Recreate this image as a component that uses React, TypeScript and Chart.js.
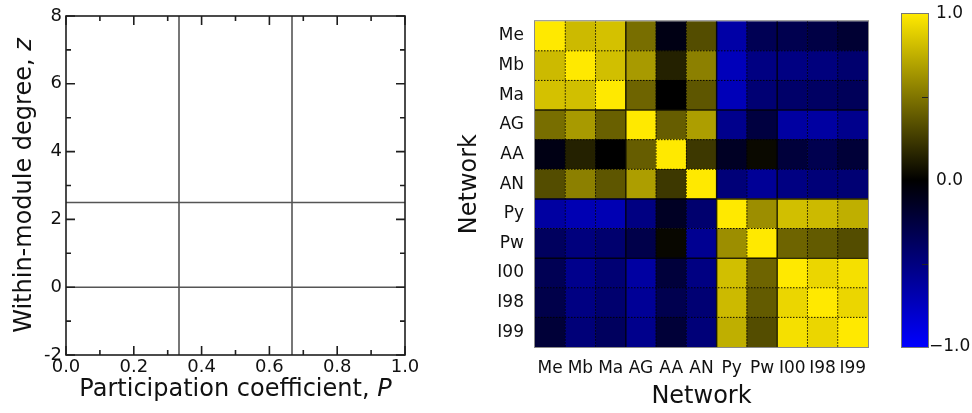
import React, { useEffect, useRef } from 'react';
import { Chart, registerables } from 'chart.js';

Chart.register(...registerables);

const FONT = '"DejaVu Sans", "Liberation Sans", Arial, sans-serif';

// ---------- Left panel: within-module degree vs participation coefficient ----------
const pRange = [0, 1];
const pMajorStep = 0.2;
const pMinorStep = 0.1;
const zRange = [-2, 8];
const zMajorStep = 2;
const zMinorStep = 1;
const roleBoundsP = [1 / 3, 2 / 3];
const roleBoundsZ = [2.5, 0];
const pTitle = 'Participation coefficient, ';
const pSymbol = 'P';
const zTitle = 'Within-module degree, ';
const zSymbol = 'z';

// ---------- Right panel: network correlation matrix ----------
const networks = ['Me', 'Mb', 'Ma', 'AG', 'AA', 'AN', 'Py', 'Pw', 'I00', 'I98', 'I99'];
const rowMe = [1.0, 0.8, 0.83, 0.47, -0.08, 0.33, -0.65, -0.33, -0.31, -0.27, -0.2];
const rowMb = [0.8, 1.0, 0.82, 0.66, 0.14, 0.55, -0.73, -0.51, -0.51, -0.49, -0.43];
const rowMa = [0.83, 0.82, 1.0, 0.43, 0.0, 0.37, -0.72, -0.45, -0.41, -0.39, -0.35];
const rowAG = [0.47, 0.66, 0.41, 1.0, 0.4, 0.68, -0.55, -0.25, -0.63, -0.63, -0.55];
const rowAA = [-0.08, 0.14, 0.0, 0.4, 1.0, 0.24, -0.14, 0.04, -0.23, -0.31, -0.22];
const rowAN = [0.33, 0.55, 0.37, 0.68, 0.24, 1.0, -0.47, -0.59, -0.51, -0.47, -0.45];
const rowPy = [-0.63, -0.7, -0.7, -0.51, -0.14, -0.43, 1.0, 0.61, 0.82, 0.8, 0.75];
const rowPw = [-0.37, -0.49, -0.43, -0.29, 0.03, -0.57, 0.61, 1.0, 0.43, 0.39, 0.33];
const rowI00 = [-0.33, -0.55, -0.45, -0.63, -0.23, -0.51, 0.82, 0.43, 1.0, 0.92, 0.96];
const rowI98 = [-0.29, -0.51, -0.43, -0.59, -0.31, -0.45, 0.8, 0.39, 0.92, 1.0, 0.92];
const rowI99 = [-0.22, -0.47, -0.37, -0.55, -0.22, -0.47, 0.75, 0.33, 0.96, 0.92, 1.0];
const correlationRows = [rowMe, rowMb, rowMa, rowAG, rowAA, rowAN, rowPy, rowPw, rowI00, rowI98, rowI99];
const moduleEdges = [3, 6, 8];
const heatmapTitle = 'Network';

// ---------- Colorbar ----------
const colorbarRange = [-1, 1];
const colorbarTicks = [-1, 0, 1];
const colorbarMinorTicks = [-0.5, 0.5];
const colormapStops = [-1, 0, 1];
const colormapColors = [
  [0, 0, 255],
  [0, 0, 0],
  [255, 233, 0],
];

function colorFor(v: number): string {
  const s = colormapStops;
  let i = 0;
  while (i < s.length - 2 && v > s[i + 1]) i++;
  const t = Math.max(0, Math.min(1, (v - s[i]) / (s[i + 1] - s[i])));
  const a = colormapColors[i];
  const b = colormapColors[i + 1];
  const c = a.map((x, k) => Math.round(x + (b[k] - x) * t));
  return `rgb(${c[0]},${c[1]},${c[2]})`;
}

const rolePlugin = {
  id: 'roleFrame',
  afterDatasetsDraw(chart: any) {
    const { ctx, chartArea: a, scales } = chart;
    const x = scales.x;
    const y = scales.y;
    ctx.save();
    ctx.strokeStyle = '#1e1e1e';
    ctx.lineWidth = 1.6;
    const nx = Math.round((pRange[1] - pRange[0]) / pMinorStep);
    const mx = Math.round(pMajorStep / pMinorStep);
    ctx.beginPath();
    for (let i = 0; i <= nx; i++) {
      const px = x.getPixelForValue(pRange[0] + i * pMinorStep);
      const len = i % mx === 0 ? 9 : 5;
      ctx.moveTo(px, a.bottom);
      ctx.lineTo(px, a.bottom - len);
      ctx.moveTo(px, a.top);
      ctx.lineTo(px, a.top + len);
    }
    const ny = Math.round((zRange[1] - zRange[0]) / zMinorStep);
    const my = Math.round(zMajorStep / zMinorStep);
    for (let i = 0; i <= ny; i++) {
      const py = y.getPixelForValue(zRange[0] + i * zMinorStep);
      const len = i % my === 0 ? 9 : 5;
      ctx.moveTo(a.left, py);
      ctx.lineTo(a.left + len, py);
      ctx.moveTo(a.right, py);
      ctx.lineTo(a.right - len, py);
    }
    ctx.stroke();
    ctx.strokeRect(a.left, a.top, a.right - a.left, a.bottom - a.top);

    // axis titles with italic symbols
    ctx.fillStyle = '#111';
    ctx.textBaseline = 'alphabetic';
    ctx.textAlign = 'left';
    const normal = `24px ${FONT}`;
    const italic = `italic 24px ${FONT}`;
    ctx.font = normal;
    const w1 = ctx.measureText(pTitle).width;
    ctx.font = italic;
    const w2 = ctx.measureText(pSymbol).width;
    const cx = (a.left + a.right) / 2;
    const sx = cx - (w1 + w2) / 2;
    ctx.font = normal;
    ctx.fillText(pTitle, sx, 396);
    ctx.font = italic;
    ctx.fillText(pSymbol, sx + w1, 396);

    ctx.font = normal;
    const v1 = ctx.measureText(zTitle).width;
    ctx.font = italic;
    const v2 = ctx.measureText(zSymbol).width;
    ctx.translate(31, (a.top + a.bottom) / 2);
    ctx.rotate(-Math.PI / 2);
    const sy = -(v1 + v2) / 2;
    ctx.font = normal;
    ctx.fillText(zTitle, sy, 0);
    ctx.font = italic;
    ctx.fillText(zSymbol, sy + v1, 0);
    ctx.restore();
  },
};

const heatmapPlugin = {
  id: 'heatmapGrid',
  afterDatasetsDraw(chart: any) {
    const { ctx, chartArea: a, scales } = chart;
    const x = scales.x;
    const y = scales.y;
    const n = networks.length;
    ctx.save();
    ctx.beginPath();
    ctx.rect(a.left, a.top, a.right - a.left, a.bottom - a.top);
    ctx.clip();
    // dotted cell separators
    ctx.setLineDash([1.5, 1.5]);
    ctx.strokeStyle = 'rgba(0,0,0,0.9)';
    ctx.lineWidth = 1;
    ctx.beginPath();
    for (let k = 1; k < n; k++) {
      if (moduleEdges.includes(k)) continue;
      const px = x.getPixelForValue(k - 0.5);
      const py = y.getPixelForValue(n - k);
      ctx.moveTo(px, a.top);
      ctx.lineTo(px, a.bottom);
      ctx.moveTo(a.left, py);
      ctx.lineTo(a.right, py);
    }
    ctx.stroke();
    // solid module separators
    ctx.setLineDash([]);
    ctx.strokeStyle = 'rgba(0,0,0,0.8)';
    ctx.lineWidth = 1.5;
    ctx.beginPath();
    for (const k of moduleEdges) {
      const px = x.getPixelForValue(k - 0.5);
      const py = y.getPixelForValue(n - k);
      ctx.moveTo(px, a.top);
      ctx.lineTo(px, a.bottom);
      ctx.moveTo(a.left, py);
      ctx.lineTo(a.right, py);
    }
    ctx.stroke();
    ctx.restore();
    ctx.save();
    ctx.strokeStyle = '#8a8a8a';
    ctx.lineWidth = 1;
    ctx.strokeRect(a.left - 0.5, a.top - 0.5, a.right - a.left + 1, a.bottom - a.top + 1);
    ctx.restore();
  },
};

const colorbarPlugin = {
  id: 'colorbarFrame',
  afterDatasetsDraw(chart: any) {
    const { ctx, chartArea: a, scales } = chart;
    const y = scales.y;
    ctx.save();
    ctx.strokeStyle = '#222';
    ctx.lineWidth = 1;
    ctx.beginPath();
    for (const v of colorbarMinorTicks) {
      const py = Math.round(y.getPixelForValue(v)) + 0.5;
      ctx.moveTo(a.right, py);
      ctx.lineTo(a.right - 6, py);
    }
    ctx.stroke();
    ctx.strokeStyle = '#777';
    ctx.strokeRect(a.left - 0.5, a.top - 0.5, a.right - a.left + 1, a.bottom - a.top + 1);
    ctx.restore();
  },
};

export default function App() {
  const leftRef = useRef<HTMLCanvasElement>(null);
  const heatRef = useRef<HTMLCanvasElement>(null);
  const cbRef = useRef<HTMLCanvasElement>(null);

  useEffect(() => {
    const tickFont = { family: FONT, size: 18 };

    const left = new Chart(leftRef.current as HTMLCanvasElement, {
      type: 'scatter',
      data: {
        datasets: [
          ...roleBoundsP.map((p) => ({
            data: [
              { x: p, y: zRange[0] },
              { x: p, y: zRange[1] },
            ],
          })),
          ...roleBoundsZ.map((z) => ({
            data: [
              { x: pRange[0], y: z },
              { x: pRange[1], y: z },
            ],
          })),
        ].map((d) => ({
          ...d,
          showLine: true,
          borderColor: '#555',
          borderWidth: 1.6,
          pointRadius: 0,
          fill: false,
        })),
      },
      options: {
        animation: false,
        responsive: false,
        devicePixelRatio: 1,
        events: [],
        layout: { padding: { top: 16, right: 35, left: 0, bottom: 0 } },
        plugins: { legend: { display: false }, tooltip: { enabled: false } },
        scales: {
          x: {
            type: 'linear',
            min: pRange[0],
            max: pRange[1],
            grid: { display: false, drawTicks: false },
            border: { display: false },
            ticks: {
              stepSize: pMajorStep,
              autoSkip: false,
              maxRotation: 0,
              padding: 2,
              color: '#111',
              font: tickFont,
              callback: (v: any) => Number(v).toFixed(1),
            },
            afterFit: (s: any) => {
              s.height = 58;
            },
          },
          y: {
            type: 'linear',
            min: zRange[0],
            max: zRange[1],
            grid: { display: false, drawTicks: false },
            border: { display: false },
            ticks: {
              stepSize: zMajorStep,
              padding: 4,
              color: '#111',
              font: tickFont,
              callback: (v: any) => String(v),
            },
            afterFit: (s: any) => {
              s.width = 66;
            },
          },
        },
      } as any,
      plugins: [rolePlugin],
    });

    const n = networks.length;
    const heat = new Chart(heatRef.current as HTMLCanvasElement, {
      type: 'bar',
      data: {
        labels: networks,
        datasets: correlationRows
          .map((row, r) => ({
            label: networks[r],
            data: row.map(() => 1),
            backgroundColor: row.map(colorFor),
            borderWidth: 0,
            barPercentage: 1,
            categoryPercentage: 1,
          }))
          .reverse(),
      },
      options: {
        animation: false,
        responsive: false,
        devicePixelRatio: 1,
        events: [],
        layout: { padding: { top: 14, right: 12, left: 0, bottom: 0 } },
        plugins: { legend: { display: false }, tooltip: { enabled: false } },
        scales: {
          x: {
            type: 'category',
            stacked: true,
            offset: true,
            grid: { display: false, drawTicks: false },
            border: { display: false },
            ticks: {
              autoSkip: false,
              maxRotation: 0,
              padding: 11,
              color: '#111',
              font: { family: FONT, size: 17 },
            },
            title: {
              display: true,
              text: heatmapTitle,
              color: '#111',
              font: { family: FONT, size: 24, lineHeight: 1.2 },
              padding: { top: 0, bottom: 2 },
            },
            afterFit: (s: any) => {
              s.height = 66;
            },
          },
          y: {
            type: 'linear',
            stacked: true,
            min: 0,
            max: n,
            display: false,
          },
          y2: {
            type: 'category',
            labels: networks,
            position: 'left',
            offset: true,
            grid: { display: false, drawTicks: false },
            border: { display: false },
            ticks: {
              autoSkip: false,
              padding: 11,
              color: '#111',
              font: { family: FONT, size: 17 },
            },
            title: {
              display: true,
              text: heatmapTitle,
              color: '#111',
              font: { family: FONT, size: 24, lineHeight: 1.2 },
              padding: { top: 15, bottom: 0 },
            },
            afterFit: (s: any) => {
              s.width = 95;
            },
          },
        },
      } as any,
      plugins: [heatmapPlugin],
    });

    const cb = new Chart(cbRef.current as HTMLCanvasElement, {
      type: 'bar',
      data: {
        labels: [''],
        datasets: [
          {
            data: [[colorbarRange[0], colorbarRange[1]]],
            borderWidth: 0,
            barPercentage: 1,
            categoryPercentage: 1,
            backgroundColor: (c: any) => {
              const ys = c.chart.scales?.y;
              if (!ys) return '#000';
              const y0 = ys.getPixelForValue(colormapStops[0]);
              const y1 = ys.getPixelForValue(colormapStops[colormapStops.length - 1]);
              if (!isFinite(y0) || !isFinite(y1)) return '#000';
              const g = c.chart.ctx.createLinearGradient(0, y0, 0, y1);
              const lo = colormapStops[0];
              const hi = colormapStops[colormapStops.length - 1];
              colormapStops.forEach((s, i) => {
                const col = colormapColors[i];
                g.addColorStop((s - lo) / (hi - lo), `rgb(${col[0]},${col[1]},${col[2]})`);
              });
              return g;
            },
          },
        ],
      },
      options: {
        animation: false,
        responsive: false,
        devicePixelRatio: 1,
        events: [],
        layout: { padding: { top: 14, right: 0, left: 22, bottom: 66 } },
        plugins: { legend: { display: false }, tooltip: { enabled: false } },
        scales: {
          x: { display: false },
          y: {
            type: 'linear',
            position: 'right',
            min: colorbarRange[0],
            max: colorbarRange[1],
            grid: { display: false, drawTicks: false },
            border: { display: false },
            afterBuildTicks: (s: any) => {
              s.ticks = colorbarTicks.map((v) => ({ value: v }));
            },
            ticks: {
              crossAlign: 'center',
              padding: 1,
              color: '#111',
              font: { family: FONT, size: 17 },
              callback: (v: any) => (Number(v) < 0 ? '\u2212' + Math.abs(Number(v)).toFixed(1) : Number(v).toFixed(1)),
            },
            afterFit: (s: any) => {
              s.width = 44;
            },
          },
        },
      } as any,
      plugins: [colorbarPlugin],
    });

    return () => {
      left.destroy();
      heat.destroy();
      cb.destroy();
    };
  }, []);

  const abs = (left: number, width: number): React.CSSProperties => ({
    position: 'absolute',
    left,
    top: 0,
    width,
    height: 413,
  });

  return (
    <div
      style={{
        position: 'fixed',
        left: 0,
        top: 0,
        width: 972,
        height: 413,
        background: '#fff',
        overflow: 'hidden',
      }}
    >
      <canvas ref={leftRef} width={440} height={413} style={abs(0, 440)} />
      <canvas ref={heatRef} width={440} height={413} style={abs(440, 440)} />
      <canvas ref={cbRef} width={92} height={413} style={abs(880, 92)} />
    </div>
  );
}
